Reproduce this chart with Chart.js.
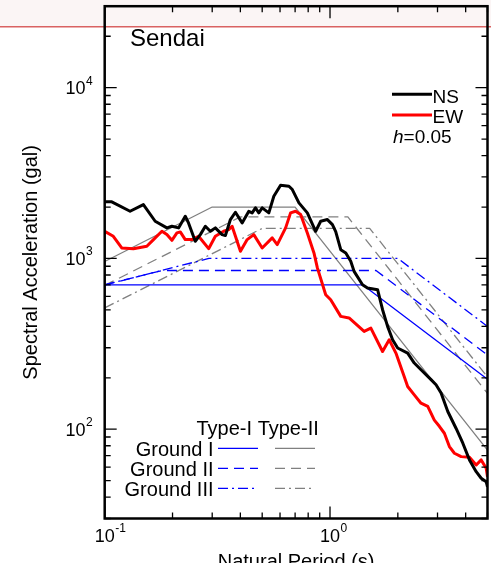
<!DOCTYPE html>
<html>
<head>
<meta charset="utf-8">
<script src="https://cdn.jsdelivr.net/npm/chart.js@4"></script>
<style>
  html, body { margin: 0; padding: 0; background: #fff; overflow: hidden; }
</style>
</head>
<body>
<canvas id="spectrum" width="491" height="563"></canvas>
<script>
// ---------- data (period in s, acceleration in gal) ----------
const nsPeriod = [0.1, 0.1075, 0.1296, 0.1485, 0.1675, 0.1888, 0.1987, 0.2127, 0.2278, 0.2355, 0.2523, 0.2657, 0.2797, 0.2943, 0.3098, 0.3319, 0.3433, 0.3613, 0.3803, 0.4074, 0.4361, 0.4514, 0.4669, 0.483, 0.5, 0.5352, 0.5631, 0.6034, 0.6572, 0.6804, 0.7278, 0.7932, 0.8635, 0.9091, 0.9736, 1.025, 1.06, 1.116, 1.175, 1.236, 1.279, 1.394, 1.467, 1.626, 1.711, 1.801, 1.896, 1.996, 2.211, 2.366, 2.534, 2.808, 2.955, 3.111, 3.332, 3.628, 3.886, 4.158, 4.454, 4.688, 4.934, 5.0];
const nsAccel = [2145, 2145, 1889, 2068, 1651, 1510, 1543, 1510, 1766, 1615, 1260, 1379, 1543, 1442, 1510, 1379, 1361, 1689, 1864, 1615, 1889, 1849, 1978, 1849, 1978, 1849, 2313, 2684, 2649, 2532, 2116, 1849, 1442, 1651, 1689, 1578, 1436, 1126, 1077, 962, 840, 702, 671, 656, 501, 400, 334, 299, 279, 244, 223, 195, 182, 163, 127, 101, 82.8, 66.1, 56.4, 51.6, 49.3, 45.9];

const ewPeriod = [0.1, 0.1092, 0.119, 0.1341, 0.1538, 0.1646, 0.1794, 0.1888, 0.1987, 0.2092, 0.2165, 0.2278, 0.2439, 0.2611, 0.2893, 0.3098, 0.3373, 0.3551, 0.3677, 0.4004, 0.4289, 0.4588, 0.5, 0.5539, 0.5832, 0.6353, 0.6683, 0.7035, 0.7406, 0.7932, 0.8487, 0.8788, 0.957, 1.007, 1.116, 1.215, 1.417, 1.518, 1.711, 1.831, 1.961, 2.136, 2.211, 2.366, 2.534, 2.715, 2.904, 3.057, 3.218, 3.387, 3.566, 3.819, 4.158, 4.454, 4.688, 4.934, 5.0];
const ewAccel = [1442, 1348, 1152, 1141, 1178, 1289, 1442, 1379, 1277, 1411, 1430, 1289, 1289, 1348, 1141, 1348, 1442, 1475, 1543, 1101, 1289, 1379, 1152, 1319, 1205, 1510, 1849, 1889, 1807, 1411, 1077, 880, 613, 573, 458, 448, 374, 391, 285, 334, 279, 203, 178, 159, 142, 136, 113, 104, 94.7, 79.1, 72.3, 69.1, 68.5, 61.7, 66.1, 59.1, 52.7];

// design spectra, corner points only (straight on log-log)
const type1G1Period = [0.1, 1.4, 5];
const type1G1Accel = [700, 700, 196];
const type1G2Period = [0.1, 0.18, 1.6, 5];
const type1G2Accel = [700, 850, 850, 272];
const type1G3Period = [0.1, 0.29, 2.0, 5];
const type1G3Accel = [700, 1000, 1000, 400];
const type2G1Period = [0.1, 0.3, 0.7, 5];
const type2G1Accel = [960, 2000, 2000, 75.5];
const type2G2Period = [0.1, 0.4, 1.2, 5];
const type2G2Accel = [695, 1750, 1750, 162];
const type2G3Period = [0.1, 0.5, 1.5, 5];
const type2G3Accel = [513, 1500, 1500, 202];

const xTickLabels = [0.1, 1];
const yTickLabels = [100, 1000, 10000];
const groundNames = ["Ground I", "Ground II", "Ground III"];

// ---------- styles ----------
const FONT = '"Liberation Sans", Arial, Helvetica, sans-serif';
const BLUE = "#0000ff";
const GRAY = "#808080";
const dashes = [[], [10, 6], [10, 4, 2, 4]];

const pts = (xs, ys) => xs.map((x, i) => ({ x: x, y: ys[i] }));

function design(xs, ys, color, dash) {
  return { data: pts(xs, ys), borderColor: color, borderWidth: 1.3, borderDash: dash };
}

function seg(c, x1, x2, y, color, width, dash) {
  c.save();
  c.strokeStyle = color;
  c.lineWidth = width;
  c.setLineDash(dash);
  c.beginPath();
  c.moveTo(x1, y);
  c.lineTo(x2, y);
  c.stroke();
  c.restore();
}

// "10" with a raised exponent
function power(c, exp, x, y, mode) {
  c.font = "18px " + FONT;
  c.textAlign = "left";
  c.textBaseline = "alphabetic";
  const w = c.measureText("10").width;
  const left = mode === "x" ? x - w / 2 : x - w;
  c.fillText("10", left, y);
  c.font = "12px " + FONT;
  c.fillText(String(exp), left + w + 0.5, y - 9.5);
}

// ---------- frame, inner ticks, labels, legends ----------
const framePlugin = {
  id: "frame",
  beforeDraw(chart) {
    const c = chart.ctx;
    c.save();
    c.fillStyle = "#fff";
    c.fillRect(0, 0, chart.width, chart.height);
    // faint red rule across the top of the scan
    c.fillStyle = "rgba(235,200,200,0.18)";
    c.fillRect(0, 0, chart.width, 26);
    c.strokeStyle = "rgba(210,70,70,0.85)";
    c.lineWidth = 1.5;
    c.beginPath();
    c.moveTo(0, 26.7);
    c.lineTo(chart.width, 26.7);
    c.stroke();
    c.restore();
  },
  afterDraw(chart) {
    const c = chart.ctx;
    const a = chart.chartArea;
    const xs = chart.scales.x;
    const ys = chart.scales.y;
    c.save();
    c.strokeStyle = "#000";
    c.fillStyle = "#000";

    // ticks
    c.lineWidth = 1.3;
    c.beginPath();
    for (let k = -2; k <= 5; k++) {
      for (let m = 1; m <= 9; m++) {
        const v = m * Math.pow(10, k);
        const len = m === 1 ? 12 : 6;
        if (v >= xs.min && v <= xs.max) {
          const px = xs.getPixelForValue(v);
          c.moveTo(px, a.bottom); c.lineTo(px, a.bottom - len);
          c.moveTo(px, a.top); c.lineTo(px, a.top + len);
        }
        if (v >= ys.min && v <= ys.max) {
          const py = ys.getPixelForValue(v);
          c.moveTo(a.left, py); c.lineTo(a.left + len, py);
          c.moveTo(a.right, py); c.lineTo(a.right - len, py);
        }
      }
    }
    c.stroke();

    // frame
    c.lineWidth = 2.5;
    c.strokeRect(a.left, a.top, a.right - a.left, a.bottom - a.top);

    // tick labels
    xTickLabels.forEach((v) => power(c, Math.round(Math.log10(v)), xs.getPixelForValue(v), 541.5, "x"));
    yTickLabels.forEach((v) => power(c, Math.round(Math.log10(v)), 85.5, ys.getPixelForValue(v) + 6.5, "y"));

    // station name
    c.font = "24px " + FONT;
    c.textAlign = "left";
    c.fillText("Sendai", 130, 45.5);

    // NS / EW legend
    seg(c, 392, 432, 94.3, "#000", 3, []);
    seg(c, 392, 432, 115, "#ff0000", 3, []);
    c.font = "19px " + FONT;
    c.fillText("NS", 432.5, 102.7);
    c.fillText("EW", 432.5, 123.3);
    c.font = "italic 19px " + FONT;
    c.fillText("h", 393, 143.3);
    const hw = c.measureText("h").width;
    c.font = "19px " + FONT;
    c.fillText("=0.05", 393 + hw, 143.3);

    // design spectrum legend
    c.font = "20px " + FONT;
    c.fillText("Type-I Type-II", 196.5, 435);
    c.textAlign = "right";
    groundNames.forEach((name, i) => {
      const base = 456 + i * 20;
      c.fillText(name, 213.5, base);
      seg(c, 218, 258, base - 7.7, BLUE, 1.3, dashes[i]);
      seg(c, 275, 315, base - 7.7, GRAY, 1.3, dashes[i]);
    });
    c.restore();
  }
};

new Chart(document.getElementById("spectrum"), {
  type: "line",
  data: {
    datasets: [
      { data: pts(nsPeriod, nsAccel), borderColor: "#000", borderWidth: 3 },
      { data: pts(ewPeriod, ewAccel), borderColor: "#ff0000", borderWidth: 3 },
      design(type1G1Period, type1G1Accel, BLUE, dashes[0]),
      design(type1G2Period, type1G2Accel, BLUE, dashes[1]),
      design(type1G3Period, type1G3Accel, BLUE, dashes[2]),
      design(type2G1Period, type2G1Accel, GRAY, dashes[0]),
      design(type2G2Period, type2G2Accel, GRAY, dashes[1]),
      design(type2G3Period, type2G3Accel, GRAY, dashes[2])
    ]
  },
  options: {
    responsive: false,
    animation: false,
    layout: { padding: { top: 6.2, right: 3.5, bottom: 0, left: 0 } },
    elements: { point: { radius: 0 }, line: { tension: 0, borderJoinStyle: "round" } },
    plugins: { legend: { display: false }, tooltip: { enabled: false } },
    scales: {
      x: {
        type: "logarithmic",
        min: 0.1,
        max: 5,
        grid: { display: false },
        border: { display: false },
        ticks: { display: false },
        title: {
          display: true,
          text: "Natural Period (s)",
          color: "#000",
          font: { family: FONT, size: 20, lineHeight: 1 },
          padding: { top: 0, bottom: -9.3 }
        },
        afterFit(scale) { scale.height = 44.5; }
      },
      y: {
        type: "logarithmic",
        min: 30,
        max: 30000,
        grid: { display: false },
        border: { display: false },
        ticks: { display: false },
        title: {
          display: true,
          text: "Spectral Acceleration (gal)",
          color: "#000",
          font: { family: FONT, size: 20, lineHeight: 1 },
          padding: { top: 21.7, bottom: 0 }
        },
        afterFit(scale) { scale.width = 104.7; }
      }
    }
  },
  plugins: [framePlugin]
});
</script>
</body>
</html>
